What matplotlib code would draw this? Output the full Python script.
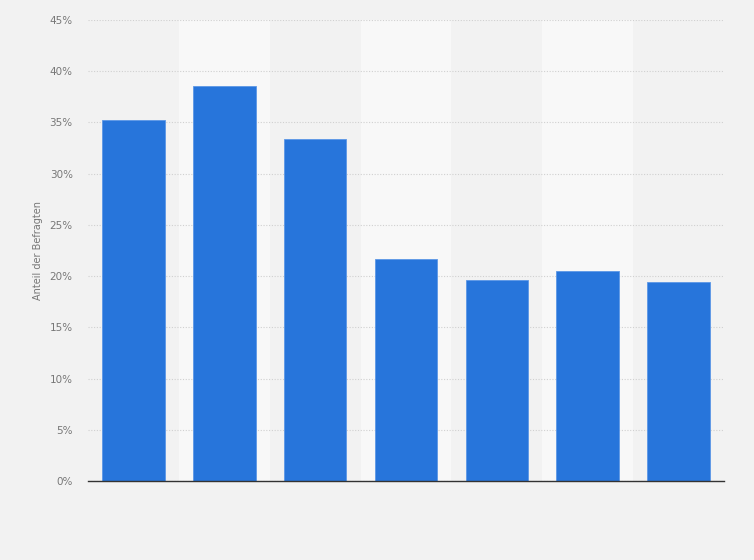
import matplotlib.pyplot as plt
from matplotlib.ticker import FuncFormatter

# values (share of respondents, %)
categories = ['1', '2', '3', '4', '5', '6', '7']
values = [35.2, 38.6, 33.4, 21.7, 19.6, 20.5, 19.4]
yticks = [0, 5, 10, 15, 20, 25, 30, 35, 40, 45]

fig = plt.figure(figsize=(7.54, 5.6), dpi=100)
fig.patch.set_facecolor('#f2f2f2')
ax = fig.add_axes([88 / 754, 1 - 481 / 560, 636 / 754, 461 / 560])
ax.set_facecolor('#f2f2f2')

x = range(len(categories))

# lighter bands behind every second category
for i in x:
    if i % 2 == 1:
        ax.axvspan(i - 0.5, i + 0.5, color='#f8f8f8', zorder=0, lw=0)

ax.bar(x, values, width=0.69, color='#2775db', edgecolor='#5c97e6',
       linewidth=0.6, zorder=3)

ax.set_xlim(-0.5, len(categories) - 0.5)
ax.set_ylim(0, 45)
ax.set_yticks(yticks)
ax.yaxis.set_major_formatter(FuncFormatter(lambda v, p: f'{v:.0f}%'))
ax.grid(axis='y', color='#d0d0d0', linestyle=(0, (1, 1.5)), linewidth=0.8, zorder=1)
ax.set_xticks([])
ax.tick_params(axis='y', length=0, pad=11, labelsize=7.5, labelcolor='#777777')

for s in ['top', 'right', 'left']:
    ax.spines[s].set_visible(False)
ax.spines['bottom'].set_color('#333333')
ax.spines['bottom'].set_linewidth(1.0)
ax.spines['bottom'].set_zorder(4)

ax.set_ylabel('Anteil der Befragten', fontsize=7, color='#777777', labelpad=5)

fig.savefig('out.png', dpi=100, facecolor=fig.get_facecolor())
